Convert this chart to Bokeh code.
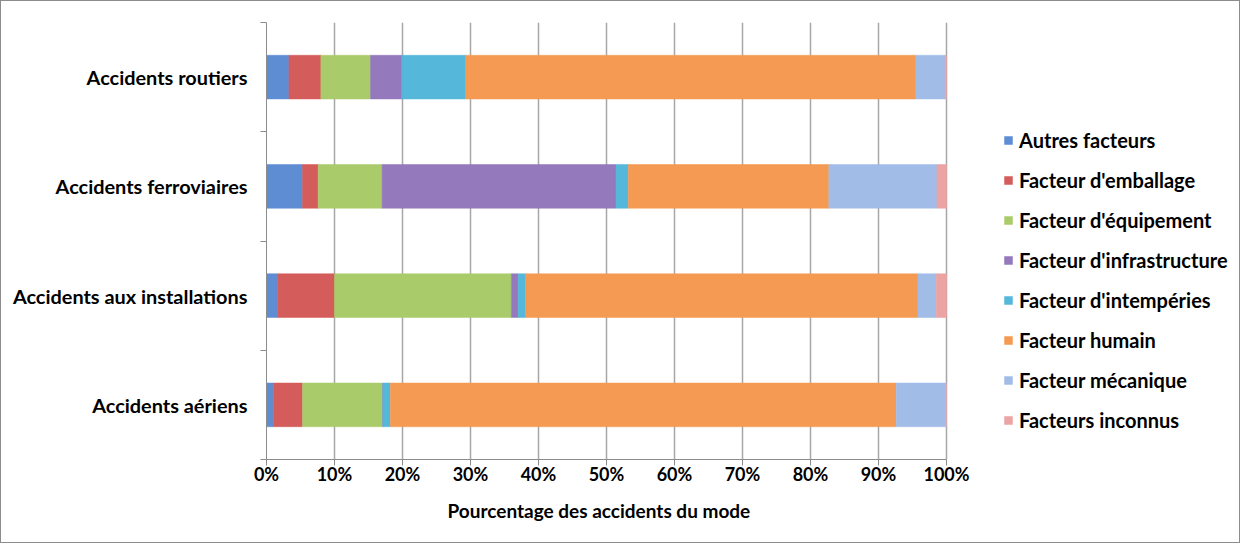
from bokeh.plotting import figure
from bokeh.models import (ColumnDataSource, Range1d, LinearAxis, FixedTicker, PrintfTickFormatter, Grid, Title)
from bokeh.embed import file_html
from bokeh.resources import INLINE

# ---- data (percent of accidents per mode) ----
modes = ["Accidents aériens", "Accidents aux installations", "Accidents ferroviaires", "Accidents routiers"]
factors = ["Autres facteurs", "Facteur d'emballage", "Facteur d'équipement", "Facteur d'infrastructure",
           "Facteur d'intempéries", "Facteur humain", "Facteur mécanique", "Facteurs inconnus"]
autres         = [1.0, 1.6, 5.3, 3.3]
emballage      = [4.3, 8.4, 2.3, 4.7]
equipement     = [11.8, 26.0, 9.4, 7.3]
infrastructure = [0.0, 1.0, 34.4, 4.6]
intemperies    = [1.1, 1.1, 1.8, 9.4]
humain         = [74.4, 57.7, 29.5, 66.2]
mecanique      = [7.4, 2.7, 15.9, 4.3]
inconnus       = [0.0, 1.5, 1.4, 0.2]
x_ticks = list(range(0, 101, 10))
x_title = "Pourcentage des accidents du mode"

colors = ["#5E8DD4", "#D45C5A", "#AACB6A", "#9479BC", "#55B7D9", "#F59A52", "#A2BCE8", "#EBA3A3"]
keys = ["k%d" % i for i in range(len(factors))]
series = [autres, emballage, equipement, infrastructure, intemperies, humain, mecanique, inconnus]
ypos = [i + 0.5 for i in range(len(modes))]          # band centres
bounds = list(range(len(modes) + 1))                 # band boundaries (tick marks)
data = {"y": ypos, "mode": modes}
for k, s in zip(keys, series):
    data[k] = s
source = ColumnDataSource(data)

FONT = "Lato"
GRAY = "#8c8c8c"

# layout: the 0-100 % axis occupies PLOT_W px; the frame extends further right to hold the legend
PLOT_W, FRAME_W, FRAME_H = 680, 965, 437
x_end = 100.0 * FRAME_W / PLOT_W

p = figure(frame_width=FRAME_W, frame_height=FRAME_H, output_backend="svg", toolbar_location=None,
           x_range=Range1d(0, x_end), y_range=Range1d(0, len(modes)),
           x_axis_location=None, y_axis_location=None,
           min_border_left=265, min_border_right=8, min_border_top=21, min_border_bottom=83,
           outline_line_color=None)
p.styles = {"border": "1px solid #8c8c8c"}

renderers = p.hbar_stack(keys, y="y", height=0.4, color=colors, line_color=colors,
                         line_width=0.5, source=source, legend_label=factors)

p.ygrid.visible = False
p.xgrid.visible = False

yaxis = LinearAxis(ticker=FixedTicker(ticks=ypos, minor_ticks=bounds),
                   major_label_overrides={y: m for y, m in zip(ypos, modes)},
                   major_tick_line_color=None, major_tick_out=0, major_tick_in=0,
                   minor_tick_out=6, minor_tick_in=0, minor_tick_line_color=GRAY,
                   axis_line_color=GRAY, major_label_standoff=13,
                   major_label_text_font=FONT, major_label_text_font_style="bold",
                   major_label_text_font_size="19.9px", major_label_text_color="#000000")
p.add_layout(yaxis, "left")

xaxis = LinearAxis(ticker=FixedTicker(ticks=x_ticks), formatter=PrintfTickFormatter(format="%d%%"),
                   bounds=(0, 100),
                   major_tick_out=6, major_tick_in=0, minor_tick_line_color=None,
                   axis_line_color=GRAY, major_tick_line_color=GRAY, major_label_standoff=-3,
                   major_label_text_font=FONT, major_label_text_font_style="bold",
                   major_label_text_font_size="18px", major_label_text_color="#000000")
p.add_layout(xaxis, "below")

# axis title, under the 0-100 % part of the axis
title = Title(text=x_title, align="left", offset=181, standoff=19,
              text_font=FONT, text_font_style="bold", text_font_size="19px", text_color="#000000")
p.add_layout(title, "below")

g = Grid(dimension=0, ticker=FixedTicker(ticks=x_ticks), grid_line_color="#a6a6a6", grid_line_width=1.5)
g.level = "underlay"
p.add_layout(g)

lg = p.legend[0]
lg.location = (737, 27)
lg.border_line_color = None
lg.background_fill_alpha = 0
lg.padding = 0
lg.margin = 0
lg.glyph_width = 10
lg.glyph_height = 10
lg.label_height = 20
lg.spacing = 16
lg.label_standoff = 6
lg.label_text_font = FONT
lg.label_text_font_style = "bold"
lg.label_text_font_size = "20px"
lg.label_text_color = "#000000"
lg.label_text_baseline = "middle"

open("out.html", "w").write(file_html(p, INLINE))
